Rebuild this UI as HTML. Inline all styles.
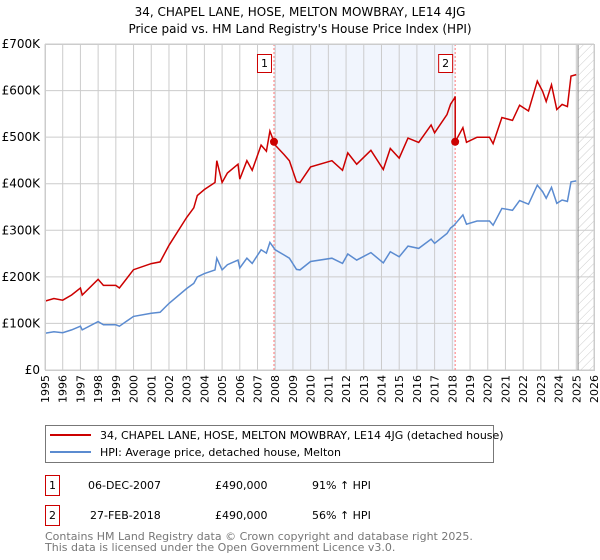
<!DOCTYPE html>
<html><head><meta charset="utf-8"><style>
body{margin:0;background:#fff;font-family:"DejaVu Sans","Liberation Sans",sans-serif;}
svg{display:block}
</style></head><body>
<svg width="600" height="560" font-family="DejaVu Sans, Liberation Sans, sans-serif">
<text x="300" y="16" text-anchor="middle" font-size="12">34, CHAPEL LANE, HOSE, MELTON MOWBRAY, LE14 4JG</text>
<text x="300" y="33" text-anchor="middle" font-size="12">Price paid vs. HM Land Registry's House Price Index (HPI)</text>
<defs><pattern id="hatch" width="6" height="6" patternUnits="userSpaceOnUse" patternTransform="rotate(45)"><line x1="0" y1="0" x2="0" y2="6" stroke="#ccc" stroke-width="1"/></pattern></defs>
<g id="plot"></g>
<g>
<rect x="45.5" y="425.5" width="448" height="37" fill="#fff" stroke="#777"/>
<line x1="50" y1="435" x2="91" y2="435" stroke="#cc0000" stroke-width="2"/>
<text x="100" y="439" font-size="11">34, CHAPEL LANE, HOSE, MELTON MOWBRAY, LE14 4JG (detached house)</text>
<line x1="50" y1="452" x2="91" y2="452" stroke="#5b8bd0" stroke-width="2"/>
<text x="100" y="456" font-size="11">HPI: Average price, detached house, Melton</text>
</g>
<g font-size="11">
<rect x="45.5" y="475.5" width="14" height="20" fill="#fff" stroke="#cc0000"/><text x="52.5" y="489" text-anchor="middle">1</text>
<text x="88" y="489">06-DEC-2007</text><text x="215" y="489">£490,000</text><text x="312" y="489">91% ↑ HPI</text>
<rect x="45.5" y="505.5" width="14" height="20" fill="#fff" stroke="#cc0000"/><text x="52.5" y="519" text-anchor="middle">2</text>
<text x="90" y="519">27-FEB-2018</text><text x="215" y="519">£490,000</text><text x="312" y="519">56% ↑ HPI</text>
</g>
<text x="45" y="540" font-size="11" fill="#777">Contains HM Land Registry data © Crown copyright and database right 2025.</text>
<text x="45" y="551" font-size="11" fill="#777">This data is licensed under the Open Government Licence v3.0.</text>
</svg>
<script>
const hpiYears=[1995,1995.5,1996,1996.5,1997,1997.1,1998,1998.3,1999,1999.2,2000,2001,2001.5,2002,2003,2003.4,2003.6,2004,2004.6,2004.7,2005,2005.3,2005.9,2006,2006.4,2006.7,2007.2,2007.5,2007.7,2008,2008.5,2008.8,2009.2,2009.4,2010,2011.2,2011.8,2012.1,2012.6,2013.4,2014.1,2014.5,2015,2015.5,2016.1,2016.8,2017,2017.7,2017.9,2018.1,2018.6,2018.8,2019.4,2020.1,2020.3,2020.8,2021.4,2021.8,2022.3,2022.8,2023.1,2023.3,2023.6,2023.9,2024.2,2024.5,2024.7,2025.0];
const hpiValues=[79,82,80,86,94,86,104,97,97,94,115,122,124,143,175,186,200,207,215,240,215,226,236,219,240,229,258,251,274,258,247,240,216,215,233,240,229,249,236,252,230,254,243,266,261,281,272,293,305,311,333,313,320,320,311,347,343,364,356,397,383,369,392,358,365,362,404,406];
const saleYears=[2007.93,2018.16];
const salePrices=[490,490];
const yTicks=[0,100,200,300,400,500,600,700];
const yTickLabels=["£0","£100K","£200K","£300K","£400K","£500K","£600K","£700K"];
const xTicks=[1995,1996,1997,1998,1999,2000,2001,2002,2003,2004,2005,2006,2007,2008,2009,2010,2011,2012,2013,2014,2015,2016,2017,2018,2019,2020,2021,2022,2023,2024,2025,2026];
const hatchStart=2025.1;

const X0=45,X1=594,Y0=370,Y1=44;
const xs=y=>X0+(y-1995)/(2026-1995)*(X1-X0);
const ys=v=>Y0-v/700*(Y0-Y1);
const NS="http://www.w3.org/2000/svg";
const plot=document.getElementById('plot');
function mk(t,a){const e=document.createElementNS(NS,t);for(const k in a)e.setAttribute(k,a[k]);plot.appendChild(e);return e;}
function hpiAt(t){for(let i=0;i<hpiYears.length-1;i++){if(t<=hpiYears[i+1]){const f=(t-hpiYears[i])/(hpiYears[i+1]-hpiYears[i]);return hpiValues[i]+f*(hpiValues[i+1]-hpiValues[i]);}}return hpiValues[hpiValues.length-1];}

let e=mk('rect',{x:xs(saleYears[0]),y:Y1,width:xs(saleYears[1])-xs(saleYears[0]),height:Y0-Y1,fill:'#eef3fd',opacity:0.8});

e=mk('rect',{x:xs(hatchStart),y:Y1,width:X1-xs(hatchStart),height:Y0-Y1,fill:'url(#hatch)'});

xTicks.forEach(t=>{
 e=mk('line',{x1:xs(t),x2:xs(t),y1:Y1,y2:Y0,stroke:'#ccc','stroke-width':1});
 
 const lx=xs(t)+4,ly=375;
 e=mk('text',{x:lx,y:ly,'text-anchor':'end','font-size':11,transform:'rotate(-90 '+lx+' '+ly+')'});e.textContent=t;
 
});
yTicks.forEach((t,i)=>{
 e=mk('line',{x1:X0,x2:X1,y1:ys(t),y2:ys(t),stroke:'#ccc','stroke-width':1});
 
 e=mk('text',{x:40,y:ys(t)+4,'text-anchor':'end','font-size':12});e.textContent=yTickLabels[i];
 
});
e=mk('line',{x1:xs(hatchStart),x2:xs(hatchStart),y1:Y1,y2:Y0,stroke:'#888','stroke-width':1});

saleYears.forEach((s,i)=>{
 e=mk('line',{x1:xs(s),x2:xs(s),y1:Y1,y2:Y0,stroke:'#f77','stroke-width':1,'stroke-dasharray':'2,2'});
 
});
let d=hpiYears.map((t,i)=>(i?'L':'M')+xs(t).toFixed(1)+','+ys(hpiValues[i]).toFixed(1)).join('');
e=mk('path',{d:d,fill:'none',stroke:'#5b8bd0','stroke-width':1.5});

const r1=salePrices[0]/hpiAt(saleYears[0]),r2=salePrices[1]/hpiAt(saleYears[1]);
let pts=[];
hpiYears.forEach((t,i)=>{if(t<saleYears[1])pts.push([t,hpiValues[i]*r1]);});
pts.push([saleYears[1],hpiAt(saleYears[1])*r1]);
pts.push([saleYears[1],salePrices[1]]);
hpiYears.forEach((t,i)=>{if(t>saleYears[1])pts.push([t,hpiValues[i]*r2]);});
d=pts.map((p,i)=>(i?'L':'M')+xs(p[0]).toFixed(1)+','+ys(p[1]).toFixed(1)).join('');
e=mk('path',{d:d,fill:'none',stroke:'#cc0000','stroke-width':1.5});

saleYears.forEach((s,i)=>{
 e=mk('circle',{cx:xs(s),cy:ys(salePrices[i]),r:4,fill:'#cc0000'});
 
 e=mk('rect',{x:xs(s)-16.5,y:54.5,width:14,height:18,fill:'#fff',stroke:'#cc0000'});
 
 e=mk('text',{x:xs(s)-9.5,y:67,'text-anchor':'middle','font-size':11});e.textContent=String(i+1);
 
});
e=mk('rect',{x:X0+0.5,y:Y1+0.5,width:X1-X0,height:Y0-Y1,fill:'none',stroke:'#ccc'});

</script>
</body></html>
